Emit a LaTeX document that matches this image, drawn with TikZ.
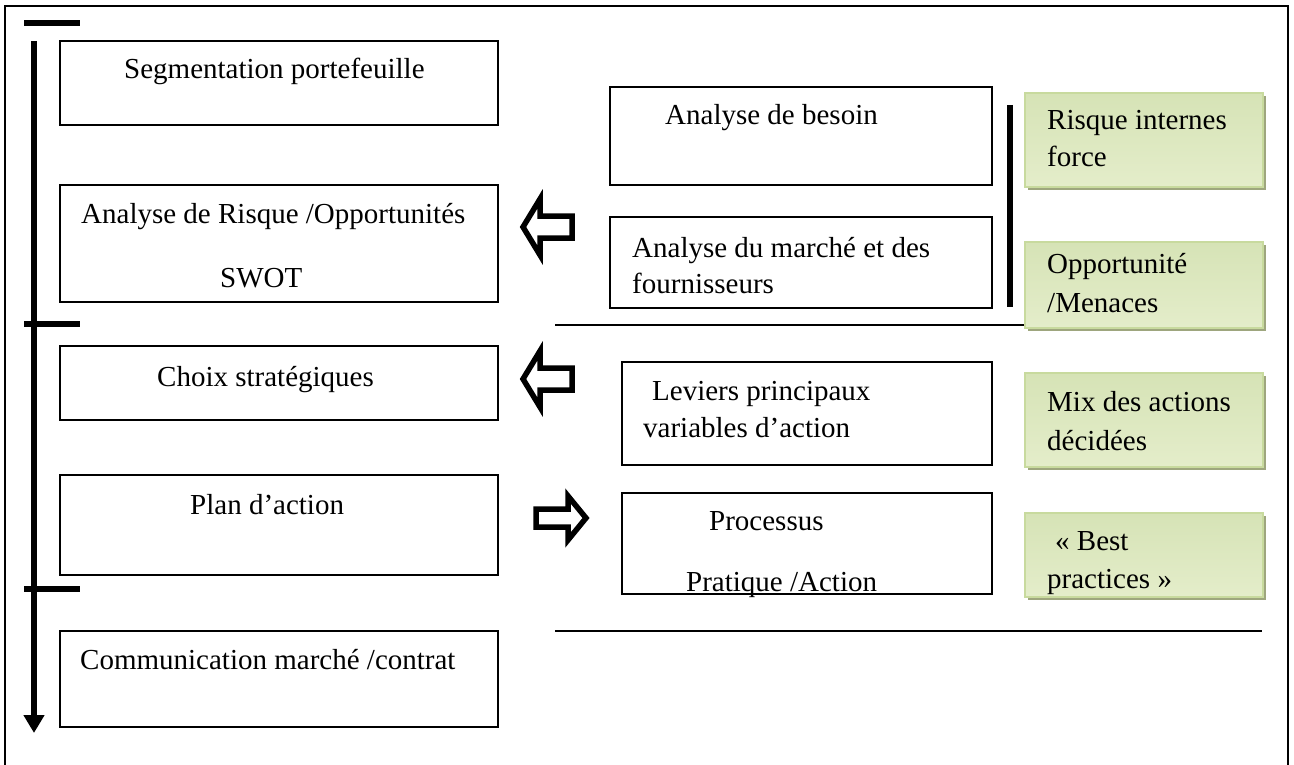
\documentclass[tikz,border=0pt]{standalone}
\usepackage{fontspec}
\setmainfont{Liberation Serif}
\usetikzlibrary{arrows.meta,fit,shadows}
\definecolor{greenfill}{RGB}{228,237,202}
\definecolor{greenfilltop}{RGB}{214,227,182}
\definecolor{greenedge}{RGB}{200,218,158}
\definecolor{greenshade}{RGB}{158,166,126}
\tikzset{
  x=1pt, y=-1pt,
  box/.style={draw, line width=1.8pt, inner sep=0pt, outer sep=0pt},
  greenbox/.style={draw=greenedge, line width=2pt, inner sep=0pt, outer sep=0pt,
    top color=greenfilltop, bottom color=greenfill,
    drop shadow={shadow xshift=3pt, shadow yshift=-3pt, fill=greenshade, opacity=1}},
  txt/.style={anchor=base west, inner sep=0pt, font=\fontsize{29}{38}\selectfont},
  tick/.style={line width=6.5pt},
  flow/.style={line width=6.5pt, -{Triangle[width=20pt,length=18pt]}},
  rule/.style={line width=1.6pt},
  blockarrow/.style={draw, line width=5.5pt, miter limit=10, fill=white},
}
\begin{document}
\begin{tikzpicture}
\useasboundingbox (0,0) rectangle (1294,765);

% outer frame, open at the bottom
\draw[line width=2.2pt] (5,765) -- (5,6) -- (1288,6) -- (1288,765);

% main process column
\node[box, fit={(60,41) (498,125)}]  (seg)  {};
\node[box, fit={(60,185) (498,302)}] (swot) {};
\node[box, fit={(60,346) (498,420)}] (choix) {};
\node[box, fit={(60,475) (498,575)}] (plan) {};
\node[box, fit={(60,631) (498,727)}] (comm) {};

\node[txt] (tseg)   at (124,79)  {Segmentation portefeuille};
\node[txt] (tswot1) at (81,223)  {Analyse de Risque /Opportunités};
\node[txt] (tswot2) at (220,287) {SWOT};
\node[txt] (tchoix) at (157,386) {Choix stratégiques};
\node[txt] (tplan)  at (190,514) {Plan d’action};
\node[txt] (tcomm)  at (80,669)  {Communication marché /contrat};

% time line with phase ticks
\coordinate (flowtop) at (34,41);
\coordinate (flowend) at (34,733);
\draw[flow] (flowtop) -- (flowend);
\coordinate (tick1a) at (24,23);  \coordinate (tick1b) at (80,23);
\coordinate (tick2a) at (24,324); \coordinate (tick2b) at (80,324);
\coordinate (tick3a) at (24,589); \coordinate (tick3b) at (80,589);
\draw[tick] (tick1a) -- (tick1b);
\draw[tick] (tick2a) -- (tick2b);
\draw[tick] (tick3a) -- (tick3b);

% inputs column
\node[box, fit={(610,87) (992,185)}]  (besoin) {};
\node[box, fit={(610,217) (992,308)}] (marche) {};
\node[box, fit={(622,362) (992,465)}] (leviers) {};
\node[box, fit={(622,493) (992,594)}] (proc) {};

\node[txt] (tbesoin)   at (665,125) {Analyse de besoin};
\node[txt] (tmarche1)  at (632,257) {Analyse du marché et des};
\node[txt] (tmarche2)  at (632,293) {fournisseurs};
\node[txt] (tleviers1) at (652,400) {Leviers principaux};
\node[txt] (tleviers2) at (643,437) {variables d’action};
\node[txt] (tproc1)    at (709,530) {Processus};
\node[txt] (tproc2)    at (686,591) {Pratique /Action};

% bracket and separators
\coordinate (brtop) at (1010,105);
\coordinate (brbot) at (1010,307);
\draw[line width=6pt] (brtop) -- (brbot);
\coordinate (sep1a) at (555,325);  \coordinate (sep1b) at (1028,325);
\coordinate (sep2a) at (555,631);  \coordinate (sep2b) at (1262,631);
\draw[rule] (sep1a) -- (sep1b);
\draw[rule] (sep2a) -- (sep2b);

% outputs column
\node[greenbox, fit={(1025,93) (1263,187)}]  (risque) {};
\node[greenbox, fit={(1025,242) (1263,328)}] (oppo) {};
\node[greenbox, fit={(1025,373) (1263,467)}] (mix) {};
\node[greenbox, fit={(1025,513) (1263,597)}] (best) {};

\node[txt] (trisque1) at (1047,130) {Risque internes};
\node[txt] (trisque2) at (1047,167) {force};
\node[txt] (toppo1)   at (1047,273) {Opportunité};
\node[txt] (toppo2)   at (1047,312) {/Menaces};
\node[txt] (tmix1)    at (1047,411) {Mix des actions};
\node[txt] (tmix2)    at (1047,450) {décidées};
\node[txt] (tbest1)   at (1055,550) {« Best};
\node[txt] (tbest2)   at (1047,588) {practices »};

% block arrows between the columns
\draw[blockarrow] (523,227) -- (540,199) -- (540,216) -- (572,216) -- (572,238) -- (540,238) -- (540,255) -- cycle;
\draw[blockarrow] (523,379) -- (540,351) -- (540,368) -- (572,368) -- (572,390) -- (540,390) -- (540,407) -- cycle;
\draw[blockarrow] (536,509) -- (568,509) -- (568,496) -- (586,518) -- (568,540) -- (568,527) -- (536,527) -- cycle;
\end{tikzpicture}
\end{document}
